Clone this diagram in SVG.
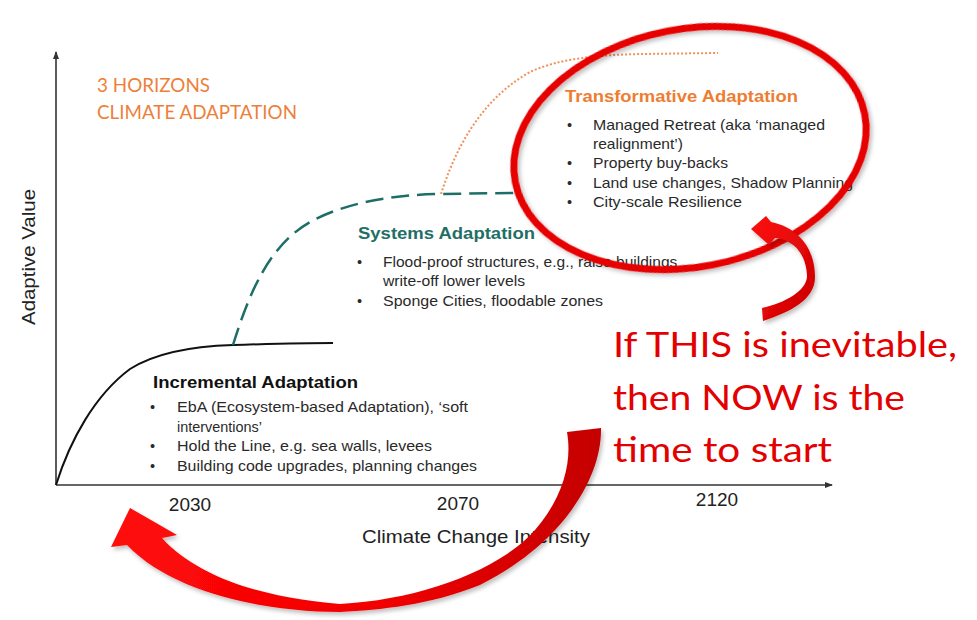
<svg xmlns="http://www.w3.org/2000/svg" width="977" height="620" viewBox="0 0 977 620">
<defs>
<style>
.ax{stroke:#333;stroke-width:1.6;fill:none}
.lbl{font-family:"Liberation Sans",Arial,sans-serif;fill:#222}
.b{font-family:"Liberation Sans",Arial,sans-serif;font-size:14.5px;fill:#2a2a2a}
.h{font-family:"Liberation Sans",Arial,sans-serif;font-weight:bold;font-size:17px}
.ttl{font-family:Lato,"Open Sans",sans-serif;font-size:19px;fill:#EE7F3B}
.call{font-family:Lato,"Open Sans",sans-serif;font-size:35px;fill:#E30000}
</style>
<marker id="ah" markerWidth="8" markerHeight="8" refX="7" refY="4" orient="auto" markerUnits="userSpaceOnUse">
<path d="M0,1 L8,4 L0,7 Z" fill="#333"/>
</marker>
<linearGradient id="bigG" x1="0" y1="0" x2="1" y2="0">
<stop offset="0" stop-color="#FF0A0A"/>
<stop offset="0.55" stop-color="#F20000"/>
<stop offset="1" stop-color="#C40000"/>
</linearGradient>
<linearGradient id="smG" x1="0" y1="0" x2="1" y2="1">
<stop offset="0" stop-color="#FF1010"/>
<stop offset="1" stop-color="#C80000"/>
</linearGradient>
<filter id="sh" x="-10%" y="-10%" width="130%" height="130%">
<feDropShadow dx="2" dy="3" stdDeviation="2" flood-color="#000" flood-opacity="0.25"/>
</filter>
</defs>
<rect width="977" height="620" fill="#fff"/>

<g id="axes">
<line class="ax" x1="56" y1="485" x2="56" y2="52" marker-end="url(#ah)"/>
<line class="ax" x1="56" y1="485" x2="832" y2="485" marker-end="url(#ah)"/>
<text class="lbl" font-size="19" text-anchor="middle" transform="translate(35,257) rotate(-90)" textLength="136" lengthAdjust="spacingAndGlyphs">Adaptive Value</text>
<text class="lbl" font-size="19" x="190" y="511" text-anchor="middle">2030</text>
<text class="lbl" font-size="19" x="458" y="510" text-anchor="middle">2070</text>
<text class="lbl" font-size="19" x="717" y="506" text-anchor="middle">2120</text>
<text class="lbl" font-size="19" x="362" y="543" textLength="228" lengthAdjust="spacingAndGlyphs">Climate Change Intensity</text>
</g>

<g id="title">
<text class="ttl" x="97" y="92" textLength="113" lengthAdjust="spacingAndGlyphs">3 HORIZONS</text>
<text class="ttl" x="97" y="119" textLength="200" lengthAdjust="spacingAndGlyphs">CLIMATE ADAPTATION</text>
</g>

<g id="connectors">
<path d="M56,485 C70,440 95,395 130,369 C160,350 200,346 233,345 C270,344 300,343 333,343" fill="none" stroke="#111" stroke-width="2"/>
<path d="M233,345 C250,290 270,245 310,222 C345,203 390,195 440,194 L515,193" fill="none" stroke="#1E6E68" stroke-width="2.5" stroke-dasharray="18 8"/>
<path d="M441,194 C455,150 480,100 530,72 C560,58 600,55 640,54 L718,53" fill="none" stroke="#F0905A" stroke-width="2" stroke-dasharray="2 2"/>
</g>

<g id="incremental">
<text class="h" x="153" y="388" fill="#111" textLength="205" lengthAdjust="spacingAndGlyphs">Incremental Adaptation</text>
<text class="b" x="150" y="412">•</text>
<text class="b" x="177" y="412" textLength="291" lengthAdjust="spacingAndGlyphs">EbA (Ecosystem-based Adaptation), ‘soft</text>
<text class="b" x="177" y="432" textLength="85" lengthAdjust="spacingAndGlyphs">interventions’</text>
<text class="b" x="150" y="451">•</text>
<text class="b" x="177" y="451" textLength="255" lengthAdjust="spacingAndGlyphs">Hold the Line, e.g. sea walls, levees</text>
<text class="b" x="150" y="471">•</text>
<text class="b" x="177" y="471" textLength="300" lengthAdjust="spacingAndGlyphs">Building code upgrades, planning changes</text>
</g>

<g id="systems">
<text class="h" x="358" y="239" fill="#1F6F66" textLength="177" lengthAdjust="spacingAndGlyphs">Systems Adaptation</text>
<text class="b" x="357" y="267">•</text>
<text class="b" x="383" y="267" textLength="303" lengthAdjust="spacingAndGlyphs">Flood-proof structures, e.g., raise buildings ,</text>
<text class="b" x="383" y="286" textLength="142" lengthAdjust="spacingAndGlyphs">write-off lower levels</text>
<text class="b" x="357" y="306">•</text>
<text class="b" x="383" y="306" textLength="220" lengthAdjust="spacingAndGlyphs">Sponge Cities, floodable zones</text>
</g>

<g id="transformative">
<text class="h" x="565" y="102" fill="#EE7D31" textLength="233" lengthAdjust="spacingAndGlyphs">Transformative Adaptation</text>
<text class="b" x="567" y="130">•</text>
<text class="b" x="593" y="130" textLength="232" lengthAdjust="spacingAndGlyphs">Managed Retreat (aka ‘managed</text>
<text class="b" x="593" y="149" textLength="90" lengthAdjust="spacingAndGlyphs">realignment’)</text>
<text class="b" x="567" y="168">•</text>
<text class="b" x="593" y="168" textLength="135" lengthAdjust="spacingAndGlyphs">Property buy-backs</text>
<text class="b" x="567" y="188">•</text>
<text class="b" x="593" y="188" textLength="260" lengthAdjust="spacingAndGlyphs">Land use changes, Shadow Planning</text>
<text class="b" x="567" y="207">•</text>
<text class="b" x="593" y="207" textLength="149" lengthAdjust="spacingAndGlyphs">City-scale Resilience</text>
</g>

<g id="highlight">
<ellipse cx="690" cy="148" rx="178" ry="119" transform="rotate(-11 690 148)" fill="none" stroke="#E60000" stroke-width="7" filter="url(#sh)"/>
</g>

<g id="callout">
<text class="call" x="613" y="357" textLength="344" lengthAdjust="spacingAndGlyphs">If THIS is inevitable,</text>
<text class="call" x="613" y="410" textLength="292" lengthAdjust="spacingAndGlyphs">then NOW is the</text>
<text class="call" x="613" y="462" textLength="219" lengthAdjust="spacingAndGlyphs">time to start</text>
</g>

<g id="arrows">
<path d="M751,229 L766,216 L771,222 C800,228 815,250 815,277 C815,300 790,312 763,321 L762,308 C785,303 808,290 807,275 C806,255 795,240 775,238 L769,245 Z" fill="url(#smG)" filter="url(#sh)"/>
<path d="M567,432 L601,428 C602,480 560,545 480,585 C430,605 380,610 340,612 C270,612 175,595 127,545 L111,547 L130,508 L177,535 L162,538 C195,575 260,598 340,604 C420,600 500,570 535,530 C565,495 572,460 567,432 Z" fill="url(#bigG)" filter="url(#sh)"/>
</g>
</svg>
